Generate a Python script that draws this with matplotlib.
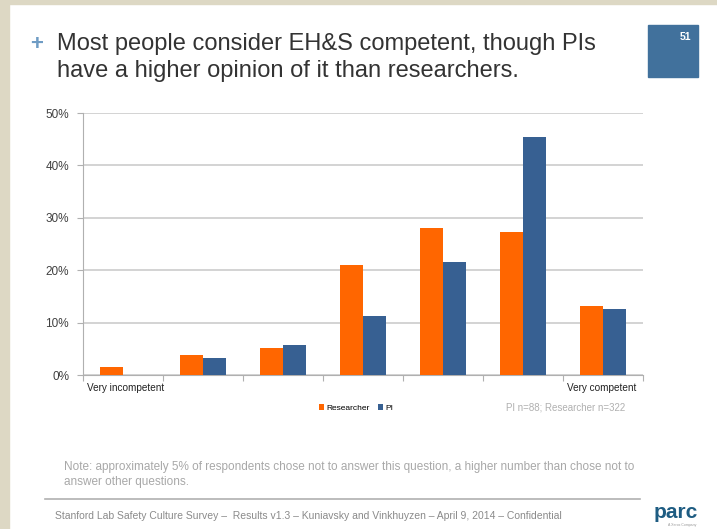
import matplotlib
matplotlib.use("Agg")
import matplotlib.pyplot as plt
from matplotlib.patches import Rectangle
import numpy as np

plt.rcParams['font.family'] = ['Liberation Sans', 'DejaVu Sans']

categories = ["Very incompetent", "", "", "", "", "", "Very competent"]
researcher = [1.5, 3.8, 5.2, 20.9, 28.0, 27.3, 13.1]
pi = [0.0, 3.3, 5.7, 11.2, 21.6, 45.5, 12.6]
yticks = [0, 10, 20, 30, 40, 50]
ytick_labels = ["0%", "10%", "20%", "30%", "40%", "50%"]

W, H = 717, 529
fig = plt.figure(figsize=(W / 100, H / 100), dpi=100)
fig.patch.set_facecolor("white")

def fx(px):
    return px / W

def fy(py):
    return 1 - py / H

# slide border (beige)
border = "#ddd8c4"
fig.patches.append(Rectangle((0, 0), fx(9), 1, transform=fig.transFigure, color=border, zorder=0))
fig.patches.append(Rectangle((0, fy(4)), 1, 4 / H, transform=fig.transFigure, color=border, zorder=0))

# title
fig.text(fx(30), fy(50), "+", fontsize=16, color="#6f9cc4", fontweight="bold", va="baseline")
fig.text(fx(57), fy(50), "Most people consider EH&S competent, though PIs", fontsize=17,
         color="#333333", va="baseline")
fig.text(fx(57), fy(77), "have a higher opinion of it than researchers.", fontsize=17,
         color="#333333", va="baseline")

# page number box
fig.patches.append(Rectangle((fx(648), fy(77)), fx(698) - fx(648), fy(25) - fy(77),
                             transform=fig.transFigure, color="#41719c", zorder=1))
fig.text(fx(691), fy(40), "51", fontsize=7.5, color="white", ha="right", va="baseline",
         fontweight="bold")

# axes
ax = fig.add_axes([fx(83), fy(375), fx(643) - fx(83), fy(113) - fy(375)])
n = len(categories)
x = np.arange(n)
bw = 0.29
ax.bar(x - bw / 2, researcher, width=bw, color="#ff6600", zorder=3, label="Researcher")
ax.bar(x + bw / 2, pi, width=bw, color="#376092", zorder=3, label="PI")
ax.set_xlim(-0.5, n - 0.5)
ax.set_ylim(0, 50)
ax.set_yticks(yticks)
ax.set_yticklabels(ytick_labels, fontsize=8.5, color="#404040")
ax.yaxis.grid(True, color="#c8c8c8", linewidth=1.1, zorder=0)
ax.set_axisbelow(True)
for s in ["top", "right"]:
    ax.spines[s].set_visible(False)
ax.spines["left"].set_color("#b0b0b0")
ax.spines["bottom"].set_color("#b0b0b0")
ax.tick_params(axis="y", length=4, color="#b0b0b0", pad=6)
ax.set_xticks(np.arange(n + 1) - 0.5)
ax.set_xticklabels([])
ax.tick_params(axis="x", length=4, color="#b0b0b0")
# category labels
ax.text(-0.45, -1.6, categories[0], fontsize=7.2, color="#222222", ha="left", va="top")
ax.text(n - 0.58, -1.6, categories[-1], fontsize=7.2, color="#222222", ha="right", va="top")

# legend
leg = fig.legend(loc="center", bbox_to_anchor=(fx(356), fy(408)), ncol=2, frameon=False,
                 fontsize=6, handlelength=0.6, handleheight=0.6, handletextpad=0.3, columnspacing=1.0)
fig.text(fx(625), fy(410), "PI n=88; Researcher n=322", fontsize=7, color="#b0b0b0", ha="right", va="baseline")

# note
fig.text(fx(64), fy(470), "Note: approximately 5% of respondents chose not to answer this question, a higher number than chose not to",
         fontsize=8.5, color="#a8a8a8", va="baseline")
fig.text(fx(64), fy(485), "answer other questions.", fontsize=8.5, color="#a8a8a8", va="baseline")

# footer line
fig.add_artist(plt.Line2D([fx(45), fx(640)], [fy(499), fy(499)], transform=fig.transFigure, color="#b0b0b0", linewidth=1.2))
fig.text(fx(55), fy(519), "Stanford Lab Safety Culture Survey \u2013  Results v1.3 \u2013 Kuniavsky and Vinkhuyzen \u2013 April 9, 2014 \u2013 Confidential",
         fontsize=7.5, color="#8a8a8a", va="baseline")
fig.text(fx(654), fy(518), "parc", fontsize=15, color="#1e5c82", fontweight="bold", va="baseline")
fig.text(fx(668), fy(526), "A Xerox Company", fontsize=2.5, color="#9a9a9a", va="baseline")

fig.savefig("out.png", dpi=100, facecolor="white")
